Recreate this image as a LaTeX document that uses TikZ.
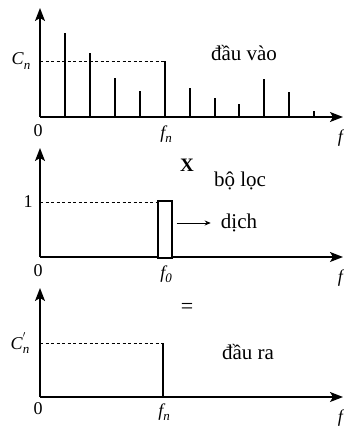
\documentclass[tikz,border=0pt]{standalone}
\usepackage{fontspec}
\setmainfont{Liberation Serif}
\usetikzlibrary{arrows.meta}
\newcommand{\subsc}[1]{\raisebox{-0.25em}{\fontsize{13}{13}\selectfont #1}}
\begin{document}
\begin{tikzpicture}[x=1pt,y=1pt,
  axis/.style={line width=1.4pt,-{Stealth[length=13pt,width=10pt,inset=3pt]}},
  spike/.style={line width=1.4pt},
  guide/.style={line width=0.9pt,dash pattern=on 3pt off 2.5pt},
  word/.style={font=\fontsize{21}{21}\selectfont,inner sep=0pt},
  lab/.style={font=\fontsize{18}{18}\selectfont,inner sep=0pt}]
\useasboundingbox (0,-427) rectangle (343,0);
% ---------- panel 1 : input ----------
\coordinate (o1) at (40,-117);
\coordinate (y1) at (40,-8);
\coordinate (x1) at (343,-117);
\draw[axis] (o1) -- (y1);
\draw[axis] (o1) -- (x1);
\foreach \x/\h in {65/33,90/53,115/78,140/91,165/61,190/88,215/98,239/104,264/79,289/92,314/111}
  \draw[spike] (\x,-117) -- (\x,-\h);
\draw[guide] (40,-61) -- (165,-61);
\node[lab] (cn) at (21,-61) {\itshape C\subsc{n}};
\node[lab] (z1) at (38,-131) {0};
\node[lab] (fn1) at (166,-134) {\itshape f\subsc{n}};
\node[lab,anchor=east] (f1) at (343,-138) {\itshape f};
\node[word] (in) at (244,-53) {đầu vào};
% ---------- panel 2 : filter ----------
\coordinate (o2) at (40,-257);
\coordinate (y2) at (40,-148);
\coordinate (x2) at (343,-257);
\draw[axis] (o2) -- (y2);
\draw[axis] (o2) -- (x2);
\draw[guide] (40,-202) -- (158,-202);
\node[draw,line width=1.3pt,fill=white,minimum width=14pt,minimum height=57pt,inner sep=0pt] (filt) at (165,-229.5) {};
\node[lab] (one) at (28,-202) {1};
\node[lab] (z2) at (38,-271) {0};
\node[lab] (f0) at (166,-274) {\itshape f\subsc{0}};
\node[lab,anchor=east] (f2) at (343,-278) {\itshape f};
\node[font=\fontsize{19}{19}\selectfont\bfseries,inner sep=0pt] (times) at (187,-165) {X};
\node[word] (filter) at (240,-181) {bộ lọc};
\node[word] (shift) at (239,-223) {dịch};
\draw[line width=0.8pt,-{Stealth[length=6pt,width=5pt]}] ([xshift=4pt]filt.east |- shift.west) -- ([xshift=-10pt]shift.west);
% ---------- panel 3 : output ----------
\coordinate (o3) at (40,-397);
\coordinate (y3) at (40,-288);
\coordinate (x3) at (343,-397);
\draw[axis] (o3) -- (y3);
\draw[axis] (o3) -- (x3);
\draw[guide] (40,-343) -- (163,-343);
\draw[line width=1.2pt] (163,-343) -- (163,-397);
\node[lab] (cpn) at (20,-343) {\itshape C\rlap{\raisebox{0.4em}{\fontsize{13}{13}\selectfont$'$}}\subsc{n}};
\node[lab] (z3) at (38,-409) {0};
\node[lab] (fn3) at (164,-412) {\itshape f\subsc{n}};
\node[lab,anchor=east] (f3) at (343,-418) {\itshape f};
\node[font=\fontsize{22}{22}\selectfont,inner sep=0pt] (eq) at (187,-308) {=};
\node[word] (out) at (248,-352) {đầu ra};
\end{tikzpicture}
\end{document}
